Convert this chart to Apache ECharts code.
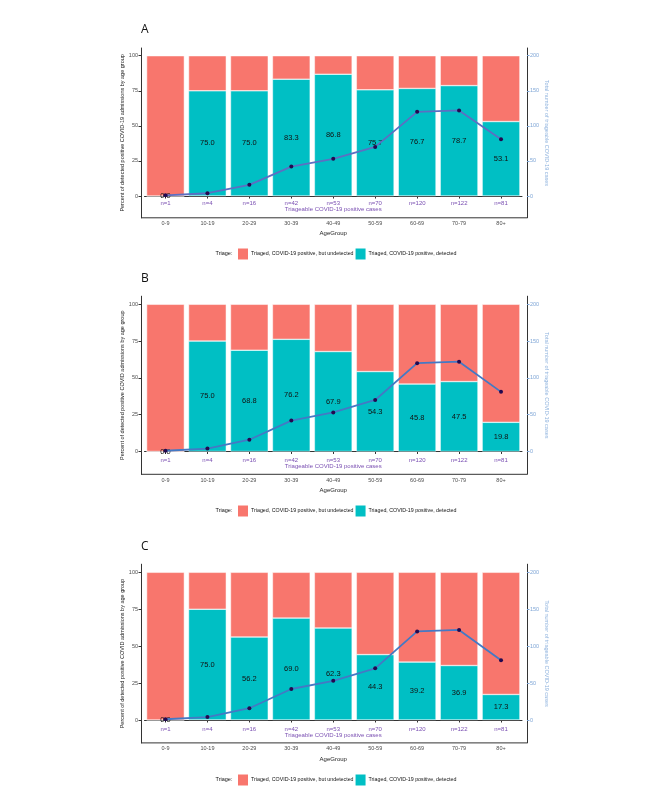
<!DOCTYPE html>
<html>
<head>
<meta charset="utf-8">
<script src="https://cdn.jsdelivr.net/npm/echarts@6/dist/echarts.min.js"></script>
<style>
  html, body { margin: 0; padding: 0; background: #fff; }
  #main { width: 666px; height: 799px; }
</style>
</head>
<body>
<div id="main"></div>
<script>
// data
var ageGroups = ['0-9', '10-19', '20-29', '30-39', '40-49', '50-59', '60-69', '70-79', '80+'];
var nCases = [1, 4, 16, 42, 53, 70, 120, 122, 81];
var detectedA = [0.0, 75.0, 75.0, 83.3, 86.8, 75.7, 76.7, 78.7, 53.1];
var detectedB = [0.0, 75.0, 68.8, 76.2, 67.9, 54.3, 45.8, 47.5, 19.8];
var detectedC = [0.0, 75.0, 56.2, 69.0, 62.3, 44.3, 39.2, 36.9, 17.3];
var pctTicks = [0, 25, 50, 75, 100];
var countTicks = [0, 50, 100, 150, 200];

var undetName = 'Triaged, COVID-19 positive, but undetected';
var detName = 'Triaged, COVID-19 positive, detected';
var font = '"Liberation Sans", Arial, sans-serif';

// layout of the three panels
var panels = [
  { key: 'A', detected: detectedA, top: 48, height: 169.8, legendY: 253,
    yName: 'Percent of detected positive COVID-19 admissions by age group', lineColor: '#5c6fc2' },
  { key: 'B', detected: detectedB, top: 296.2, height: 178.1, legendY: 510,
    yName: 'Percent of detected positive COVID admissions by age group', lineColor: '#4479c4' },
  { key: 'C', detected: detectedC, top: 564.2, height: 178.7, legendY: 779,
    yName: 'Percent of detected positive COVID admissions by age group', lineColor: '#4479c4' }
];

var grid = [], xAxis = [], yAxis = [], series = [], legend = [], title = [], graphic = [];

panels.forEach(function (p, i) {
  var bottom = p.top + p.height;
  grid.push({ left: 144.5, right: 144, top: p.top, height: p.height });

  xAxis.push({
    gridIndex: i, type: 'category', data: ageGroups,
    axisLine: { show: true, lineStyle: { color: '#333', width: 1 } },
    axisTick: { show: true, alignWithLabel: true, length: 2.5, lineStyle: { color: '#333' } },
    axisLabel: { fontSize: 5.5, color: '#4d4d4d', margin: 3, fontFamily: font },
    name: 'AgeGroup', nameLocation: 'middle', nameGap: 13, nameMoveOverlap: false,
    nameTextStyle: { fontSize: 6, color: '#222', fontFamily: font }
  });
  xAxis.push({
    gridIndex: i, type: 'category', data: ageGroups, position: 'bottom',
    axisLine: { show: false }, axisTick: { show: false },
    axisLabel: {
      inside: true, margin: 11, fontSize: 6, color: '#7a4fb2', fontFamily: font,
      formatter: function (v, idx) { return 'n=' + nCases[idx]; }
    },
    name: 'Triageable COVID-19 positive cases', nameLocation: 'middle', nameGap: -11, nameMoveOverlap: false,
    nameTextStyle: { fontSize: 6, color: '#7a4fb2', fontFamily: font }
  });

  yAxis.push({
    gridIndex: i, type: 'value', min: -15.5, max: 105.5, position: 'left', offset: 3.5,
    axisLine: { show: true, lineStyle: { color: '#333', width: 1 } },
    axisTick: { show: true, length: 2.5, lineStyle: { color: '#333' }, customValues: pctTicks },
    axisLabel: { customValues: pctTicks, fontSize: 5.5, color: '#4d4d4d', margin: 3, fontFamily: font },
    splitLine: { show: false },
    name: p.yName, nameLocation: 'middle', nameRotate: 90, nameGap: 16, nameMoveOverlap: false,
    nameTextStyle: { fontSize: 5.5, color: '#222', fontFamily: font }
  });
  yAxis.push({
    gridIndex: i, type: 'value', min: -31, max: 211, position: 'right', offset: 5,
    axisLine: { show: true, lineStyle: { color: '#333', width: 1 } },
    axisTick: { show: true, length: 2.5, lineStyle: { color: '#7fa6d6' }, customValues: countTicks },
    axisLabel: { customValues: countTicks, fontSize: 5.5, color: '#7fa6d6', margin: 3, fontFamily: font },
    splitLine: { show: false },
    name: 'Total number of triageable COVID-19 cases', nameLocation: 'middle', nameRotate: -90, nameGap: 17,
    nameMoveOverlap: false,
    nameTextStyle: { fontSize: 5.5, color: '#8fb3de', fontFamily: font }
  });

  series.push({
    name: detName, type: 'bar', xAxisIndex: 2 * i, yAxisIndex: 2 * i, stack: p.key,
    data: p.detected, barCategoryGap: '10%',
    itemStyle: { color: '#00BFC4', borderColor: '#fff', borderWidth: 0.5 },
    label: {
      show: true, position: 'inside', fontSize: 7.5, color: '#111', fontFamily: font,
      formatter: function (d) { return d.value.toFixed(1); }
    }
  });
  series.push({
    name: undetName, type: 'bar', xAxisIndex: 2 * i, yAxisIndex: 2 * i, stack: p.key,
    data: p.detected.map(function (v) { return +(100 - v).toFixed(1); }),
    barCategoryGap: '10%',
    itemStyle: { color: '#F8766D', borderColor: '#fff', borderWidth: 0.5 }
  });
  series.push({
    name: 'cases' + p.key, type: 'line', xAxisIndex: 2 * i, yAxisIndex: 2 * i + 1,
    data: nCases, symbol: 'circle', symbolSize: 4, z: 5,
    itemStyle: { color: '#23094f' },
    lineStyle: { color: p.lineColor, width: 1.8 }
  });

  legend.push({
    data: [undetName, detName], left: 236, top: p.legendY - 6.5, padding: 0,
    itemWidth: 12, itemHeight: 13, itemGap: 0, icon: 'rect',
    textStyle: { fontSize: 5.3, color: '#111', fontFamily: font, padding: [0, 0, 0, -3] }
  });

  title.push({ text: p.key, left: 141, top: p.top - 24, padding: 0,
    textStyle: { fontSize: 12, fontWeight: 'normal', color: '#111', fontFamily: '"Open Sans", sans-serif' } });
  title.push({ text: 'Triage:', left: 215.5, top: p.legendY - 3, padding: 0,
    textStyle: { fontSize: 5.5, fontWeight: 'normal', color: '#111', fontFamily: font } });

  graphic.push({ type: 'line', shape: { x1: 141, y1: bottom, x2: 527, y2: bottom },
    style: { stroke: '#333', lineWidth: 1 }, z: 100 });
});

var chart = echarts.init(document.getElementById('main'));
chart.setOption({
  backgroundColor: '#fff',
  animation: false,
  title: title,
  legend: legend,
  grid: grid,
  xAxis: xAxis,
  yAxis: yAxis,
  series: series,
  graphic: graphic
});
</script>
</body>
</html>
